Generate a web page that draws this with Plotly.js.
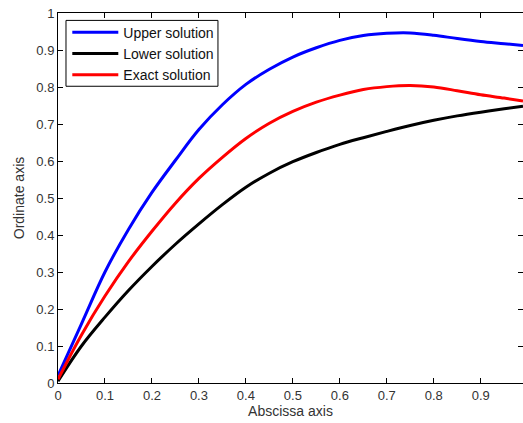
<!DOCTYPE html>
<html>
<head>
<meta charset="utf-8">
<script src="https://cdn.plot.ly/plotly-3.0.1.min.js"></script>
<style>html,body{margin:0;padding:0;background:#fff;}#chart{width:523px;height:423px;}</style>
</head>
<body>
<div id="chart"></div>
<script>
const xValues = [0, 0.05, 0.1, 0.15, 0.2, 0.25, 0.3, 0.35, 0.4, 0.45, 0.5, 0.55, 0.6, 0.65, 0.7, 0.75, 0.8, 0.85, 0.9, 0.95, 0.99];
const upperSolution = [0.02, 0.16, 0.30, 0.415, 0.515, 0.602, 0.685, 0.752, 0.807, 0.848, 0.881, 0.906, 0.926, 0.939, 0.945, 0.946, 0.94, 0.931, 0.923, 0.917, 0.912];
const lowerSolution = [0.005, 0.10, 0.178, 0.25, 0.315, 0.375, 0.43, 0.482, 0.529, 0.567, 0.598, 0.623, 0.645, 0.663, 0.68, 0.696, 0.71, 0.722, 0.732, 0.741, 0.748];
const exactSolution = [0.01, 0.13, 0.235, 0.328, 0.41, 0.486, 0.553, 0.61, 0.661, 0.702, 0.734, 0.759, 0.778, 0.793, 0.801, 0.804, 0.80, 0.79, 0.779, 0.77, 0.762];
const seriesNames = ['Upper solution', 'Lower solution', 'Exact solution'];
const tickValsX = [0, 0.1, 0.2, 0.3, 0.4, 0.5, 0.6, 0.7, 0.8, 0.9];
const tickValsY = [0, 0.1, 0.2, 0.3, 0.4, 0.5, 0.6, 0.7, 0.8, 0.9, 1];

const font = 'Liberation Sans, Arial, sans-serif';
const traces = [
  {x: xValues, y: upperSolution, name: seriesNames[0], mode: 'lines', line: {color: '#0000ff', width: 3, shape: 'spline', smoothing: 1}},
  {x: xValues, y: lowerSolution, name: seriesNames[1], mode: 'lines', line: {color: '#000000', width: 3, shape: 'spline', smoothing: 1}},
  {x: xValues, y: exactSolution, name: seriesNames[2], mode: 'lines', line: {color: '#ff0000', width: 3, shape: 'spline', smoothing: 1}}
];
const axisCommon = {
  showgrid: false, zeroline: false, showline: true, linecolor: '#000', linewidth: 1,
  mirror: 'ticks', ticks: 'inside', ticklen: 5, tickcolor: '#000', tickwidth: 1,
  tickfont: {family: font, size: 13, color: '#333'}
};
const layout = {
  width: 523, height: 423,
  margin: {l: 58, r: 0, t: 13, b: 40},
  paper_bgcolor: '#fff', plot_bgcolor: '#fff',
  showlegend: true,
  legend: {
    x: 0.02, y: 0.99, xanchor: 'left', yanchor: 'top',
    bgcolor: 'rgba(0,0,0,0)', borderwidth: 0, itemwidth: 46,
    font: {family: font, size: 14, color: '#111'}
  },
  shapes: [{
    type: 'rect', xref: 'paper', yref: 'paper', layer: 'above',
    x0: 0.0172, x1: 0.344, y0: 0.802, y1: 0.980,
    line: {color: '#000', width: 1}, fillcolor: '#fff'
  }],
  xaxis: Object.assign({}, axisCommon, {
    range: [0, 0.99], tickvals: tickValsX, ticktext: tickValsX.map(String),
    title: {text: 'Abscissa axis', font: {family: font, size: 14, color: '#333'}, standoff: 4}
  }),
  yaxis: Object.assign({}, axisCommon, {
    range: [0, 1], tickvals: tickValsY, ticktext: tickValsY.map(String),
    title: {text: 'Ordinate axis', font: {family: font, size: 14, color: '#333'}, standoff: 8}
  })
};
Plotly.newPlot('chart', traces, layout, {displayModeBar: false, staticPlot: true});
</script>
</body>
</html>
